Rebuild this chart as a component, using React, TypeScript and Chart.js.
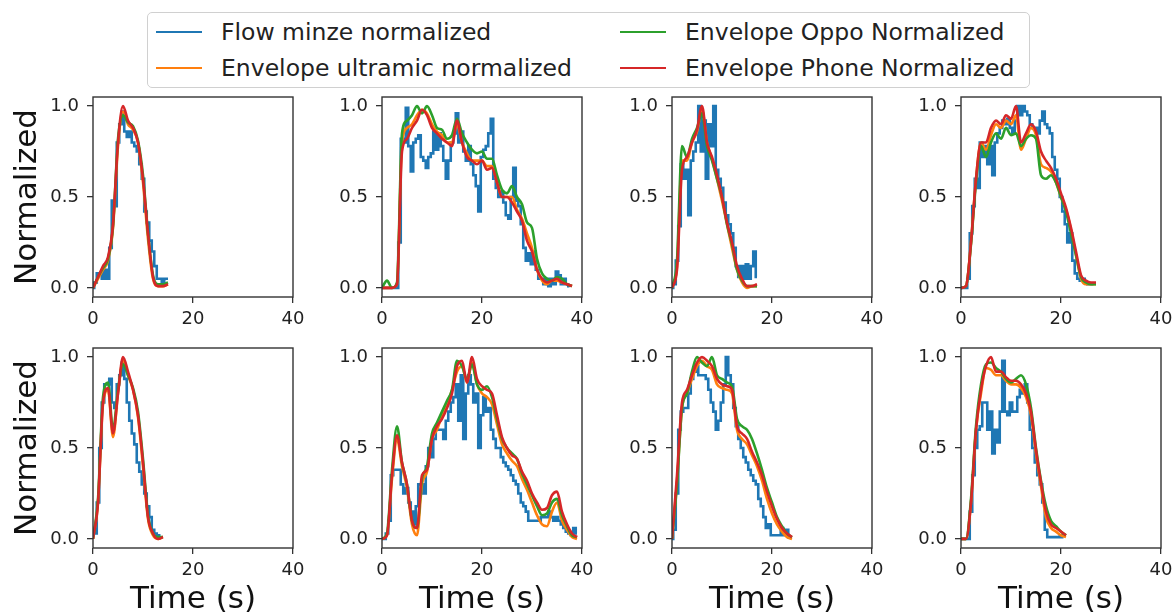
import React, { useEffect, useRef } from "react";
import { Chart, registerables } from "chart.js";

Chart.register(...registerables);

const FONT = "'DejaVu Sans', sans-serif";

// ---------- data ----------
const FLOW_DT = 0.5; // seconds between flow samples
const ENV_DT = 1; // seconds between envelope samples
const X_MIN = 0;
const X_MAX = 40;
const X_TICKS = [0, 20, 40];
const Y_MIN = -0.05;
const Y_MAX = 1.05;
const Y_TICKS = [0, 0.5, 1.0];
const X_TITLE = "Time (s)";
const Y_TITLE = "Normalized";
const SERIES_NAMES = [
  "Flow minze normalized",
  "Envelope ultramic normalized",
  "Envelope Oppo Normalized",
  "Envelope Phone Normalized",
];
const SERIES_COLORS = ["#1f77b4", "#ff7f0e", "#2ca02c", "#d62728"];

// panel 1 (top row, 1st)
const flow1 = [0, 0.03, 0.08, 0.08, 0.05, 0.1, 0.05, 0.22, 0.48, 0.45, 0.8, 0.9, 0.97, 0.86, 0.83, 0.86, 0.8, 0.78, 0.75, 0.68, 0.6, 0.42, 0.36, 0.26, 0.2, 0.12, 0.05, 0.05, 0.03, 0.05, 0.05];
const ultra1 = [0, 0.05, 0.1, 0.15, 0.33, 0.78, 0.97, 0.9, 0.87, 0.8, 0.58, 0.27, 0.05, 0.01, 0.01, 0.02];
const oppo1 = [0, 0.06, 0.11, 0.16, 0.34, 0.82, 0.95, 0.91, 0.89, 0.81, 0.62, 0.3, 0.07, 0.02, 0.02, 0.03];
const phone1 = [0, 0.06, 0.12, 0.17, 0.35, 0.8, 1.0, 0.92, 0.88, 0.8, 0.6, 0.3, 0.06, 0.01, 0.01, 0.02];

// panel 2 (top row, 2nd)
const flow2 = [0, 0, 0, 0, 0, 0, 0, 0.25, 0.82, 0.8, 0.99, 0.78, 0.64, 0.8, 0.82, 0.84, 0.72, 0.7, 0.66, 0.72, 0.74, 0.86, 0.76, 0.85, 0.78, 0.7, 0.6, 0.7, 0.8, 0.85, 0.96, 0.8, 0.86, 0.75, 0.7, 0.78, 0.68, 0.62, 0.56, 0.42, 0.72, 0.76, 0.78, 0.85, 0.93, 0.6, 0.55, 0.5, 0.53, 0.47, 0.4, 0.38, 0.5, 0.66, 0.48, 0.45, 0.35, 0.22, 0.15, 0.19, 0.13, 0.2, 0.1, 0.05, 0.05, 0.02, 0.05, 0.01, 0.05, 0.02, 0.09, 0.07, 0.02, 0.05, 0.02, 0.01];
const ultra2 = [0, 0, 0, 0.02, 0.8, 0.88, 0.9, 0.95, 0.98, 0.96, 0.9, 0.86, 0.84, 0.8, 0.8, 0.9, 0.8, 0.74, 0.7, 0.7, 0.7, 0.67, 0.67, 0.58, 0.5, 0.5, 0.5, 0.43, 0.38, 0.3, 0.22, 0.1, 0.04, 0.02, 0.04, 0.04, 0.03, 0.02, 0.01];
const oppo2 = [0, 0.04, 0, 0.03, 0.85, 0.92, 0.95, 1.0, 0.96, 1.0, 0.95, 0.88, 0.87, 0.82, 0.84, 0.93, 0.85, 0.8, 0.76, 0.74, 0.75, 0.71, 0.71, 0.62, 0.54, 0.52, 0.56, 0.5, 0.46, 0.36, 0.33, 0.16, 0.08, 0.05, 0.04, 0.06, 0.05, 0.02, 0.01];
const phone2 = [0, 0, 0, 0.02, 0.75, 0.82, 0.88, 0.92, 0.98, 0.95, 0.88, 0.85, 0.82, 0.8, 0.78, 0.92, 0.8, 0.72, 0.7, 0.68, 0.7, 0.65, 0.66, 0.58, 0.5, 0.5, 0.47, 0.42, 0.37, 0.26, 0.2, 0.1, 0.05, 0.03, 0.04, 0.05, 0.03, 0.02, 0.01];

// panel 3 (top row, 3rd)
const flow3 = [0, 0.02, 0.15, 0.34, 0.68, 0.6, 0.65, 0.4, 0.7, 0.75, 0.8, 1.0, 0.75, 0.92, 0.6, 0.9, 0.78, 1.0, 0.65, 0.6, 0.55, 0.47, 0.4, 0.35, 0.3, 0.22, 0.12, 0.06, 0.12, 0.05, 0.13, 0.05, 0.12, 0.2, 0.06];
const ultra3 = [0, 0.12, 0.7, 0.7, 0.8, 0.86, 0.98, 0.8, 0.71, 0.6, 0.48, 0.35, 0.22, 0.1, 0.03, 0.0, 0.01, 0.01];
const oppo3 = [0, 0.15, 0.78, 0.72, 0.82, 0.88, 0.96, 0.78, 0.7, 0.6, 0.5, 0.35, 0.24, 0.1, 0.04, 0.01, 0.01, 0.01];
const phone3 = [0, 0.1, 0.65, 0.72, 0.8, 0.87, 1.0, 0.8, 0.72, 0.62, 0.5, 0.36, 0.25, 0.12, 0.05, 0.01, 0.01, 0.02];

// panel 4 (top row, 4th)
const flow4 = [0, 0, 0, 0.05, 0.3, 0.45, 0.6, 0.55, 0.8, 0.72, 0.78, 0.68, 0.78, 0.62, 0.8, 0.85, 0.88, 0.92, 0.9, 0.93, 0.88, 0.85, 0.92, 1.0, 0.95, 1.0, 0.97, 0.95, 0.9, 0.88, 0.88, 0.85, 0.92, 0.97, 0.9, 0.88, 0.85, 0.72, 0.65, 0.6, 0.5, 0.42, 0.35, 0.25, 0.3, 0.15, 0.08, 0.05, 0.04, 0.05, 0.03, 0.02, 0.02, 0.02];
const ultra4 = [0, 0.01, 0.25, 0.6, 0.8, 0.76, 0.84, 0.9, 0.88, 0.92, 0.9, 0.95, 0.76, 0.82, 0.88, 0.84, 0.68, 0.66, 0.64, 0.58, 0.5, 0.43, 0.32, 0.18, 0.05, 0.02, 0.02, 0.02];
const oppo4 = [0, 0.01, 0.24, 0.58, 0.78, 0.72, 0.8, 0.85, 0.82, 0.88, 0.84, 0.85, 0.78, 0.82, 0.84, 0.82, 0.62, 0.6, 0.62, 0.58, 0.5, 0.42, 0.3, 0.18, 0.06, 0.03, 0.02, 0.02];
const phone4 = [0, 0.01, 0.25, 0.6, 0.8, 0.8, 0.88, 0.92, 0.9, 0.95, 0.93, 1.0, 0.8, 0.85, 0.9, 0.86, 0.75, 0.7, 0.66, 0.6, 0.52, 0.44, 0.33, 0.2, 0.07, 0.04, 0.03, 0.03];

// panel 5 (bottom row, 1st)
const flow5 = [0.05, 0.03, 0.2, 0.5, 0.75, 0.85, 0.85, 0.88, 0.75, 0.72, 0.85, 0.9, 0.97, 0.88, 0.75, 0.65, 0.58, 0.52, 0.42, 0.37, 0.3, 0.25, 0.18, 0.12, 0.05, 0.03, 0.02, 0.02];
const ultra5 = [0, 0.2, 0.74, 0.82, 0.56, 0.8, 0.98, 0.9, 0.82, 0.67, 0.4, 0.11, 0.02, 0.0, 0.01];
const oppo5 = [0, 0.22, 0.78, 0.86, 0.6, 0.82, 0.96, 0.9, 0.83, 0.7, 0.44, 0.13, 0.03, 0.01, 0.01];
const phone5 = [0, 0.2, 0.75, 0.83, 0.58, 0.8, 1.0, 0.92, 0.82, 0.68, 0.42, 0.12, 0.03, 0.0, 0.01];

// panel 6 (bottom row, 2nd)
const flow6 = [0, 0, 0.03, 0.1, 0.35, 0.38, 0.38, 0.38, 0.3, 0.25, 0.28, 0.2, 0.15, 0.08, 0.18, 0.3, 0.3, 0.25, 0.4, 0.5, 0.45, 0.55, 0.6, 0.6, 0.6, 0.55, 0.65, 0.7, 0.75, 0.78, 0.85, 0.65, 0.9, 0.55, 0.8, 0.9, 0.85, 0.75, 0.8, 0.5, 0.68, 0.78, 0.7, 0.72, 0.6, 0.55, 0.5, 0.5, 0.45, 0.42, 0.4, 0.38, 0.35, 0.32, 0.3, 0.25, 0.2, 0.18, 0.15, 0.1, 0.1, 0.1, 0.1, 0.1, 0.12, 0.12, 0.12, 0.15, 0.12, 0.1, 0.12, 0.1, 0.08, 0.06, 0.04, 0.03, 0.02, 0.06, 0.03];
const ultra6 = [0, 0.02, 0.33, 0.55, 0.4, 0.28, 0.08, 0.02, 0.3, 0.37, 0.55, 0.6, 0.68, 0.74, 0.82, 0.92, 0.95, 0.86, 0.97, 0.85, 0.8, 0.78, 0.74, 0.63, 0.52, 0.47, 0.43, 0.4, 0.33, 0.27, 0.2, 0.13, 0.08, 0.07, 0.15, 0.2, 0.1, 0.05, 0.01, 0.0];
const oppo6 = [0, 0.03, 0.38, 0.62, 0.42, 0.3, 0.1, 0.06, 0.33, 0.4, 0.58, 0.64, 0.7, 0.76, 0.82, 0.98, 0.95, 0.88, 0.96, 0.85, 0.82, 0.84, 0.78, 0.66, 0.55, 0.5, 0.47, 0.44, 0.36, 0.3, 0.24, 0.18, 0.13, 0.14, 0.2, 0.22, 0.13, 0.07, 0.02, 0.01];
const phone6 = [0, 0.02, 0.35, 0.57, 0.42, 0.3, 0.1, 0.06, 0.35, 0.38, 0.55, 0.62, 0.66, 0.72, 0.8, 0.95, 0.98, 0.86, 1.0, 0.88, 0.84, 0.82, 0.8, 0.68, 0.56, 0.5, 0.46, 0.44, 0.37, 0.32, 0.25, 0.2, 0.16, 0.17, 0.24, 0.26, 0.15, 0.08, 0.03, 0.01];

// panel 7 (bottom row, 3rd)
const flow7 = [0, 0.05, 0.25, 0.6, 0.7, 0.72, 0.72, 0.8, 0.88, 0.92, 0.95, 0.9, 0.9, 0.9, 0.88, 0.82, 0.75, 0.7, 0.6, 0.65, 0.75, 0.85, 1.0, 0.9, 0.85, 0.72, 0.62, 0.55, 0.5, 0.45, 0.42, 0.38, 0.35, 0.32, 0.3, 0.22, 0.18, 0.12, 0.06, 0.08, 0.02, 0.02, 0.02, 0.02, 0.06, 0.02, 0.05, 0.01];
const ultra7 = [0, 0.32, 0.72, 0.8, 0.88, 0.95, 0.98, 0.95, 0.93, 0.85, 0.83, 0.82, 0.8, 0.6, 0.55, 0.52, 0.46, 0.4, 0.32, 0.22, 0.14, 0.08, 0.04, 0.01, 0.0];
const oppo7 = [0, 0.3, 0.72, 0.8, 0.92, 1.0, 0.97, 0.95, 1.0, 0.9, 0.88, 0.86, 0.84, 0.66, 0.62, 0.6, 0.55, 0.47, 0.38, 0.28, 0.2, 0.12, 0.07, 0.03, 0.01];
const phone7 = [0, 0.35, 0.75, 0.82, 0.9, 0.97, 1.0, 0.98, 0.95, 0.88, 0.85, 0.84, 0.82, 0.62, 0.58, 0.55, 0.48, 0.42, 0.35, 0.26, 0.18, 0.11, 0.06, 0.03, 0.01];

// panel 8 (bottom row, 4th)
const flow8 = [0, 0, 0, 0, 0.15, 0.35, 0.5, 0.6, 0.62, 0.75, 0.75, 0.6, 0.7, 0.47, 0.6, 0.53, 0.7, 0.98, 0.7, 0.68, 0.75, 0.7, 0.7, 0.78, 0.82, 0.8, 0.85, 0.75, 0.6, 0.5, 0.42, 0.35, 0.3, 0.2, 0.05, 0.01, 0.01, 0.01, 0.01, 0.01, 0.02, 0.01];
const ultra8 = [0, 0, 0.2, 0.6, 0.8, 0.94, 0.93, 0.9, 0.9, 0.87, 0.85, 0.85, 0.83, 0.78, 0.68, 0.47, 0.29, 0.12, 0.06, 0.04, 0.02, 0.01];
const oppo8 = [0, 0, 0.22, 0.62, 0.85, 0.96, 0.97, 0.94, 0.92, 0.88, 0.86, 0.88, 0.9, 0.85, 0.72, 0.5, 0.32, 0.18, 0.1, 0.07, 0.04, 0.02];
const phone8 = [0, 0, 0.2, 0.6, 0.82, 0.95, 1.0, 0.92, 0.92, 0.89, 0.87, 0.87, 0.85, 0.8, 0.7, 0.49, 0.31, 0.15, 0.08, 0.06, 0.04, 0.02];

const PANELS = [
  [flow1, ultra1, oppo1, phone1],
  [flow2, ultra2, oppo2, phone2],
  [flow3, ultra3, oppo3, phone3],
  [flow4, ultra4, oppo4, phone4],
  [flow5, ultra5, oppo5, phone5],
  [flow6, ultra6, oppo6, phone6],
  [flow7, ultra7, oppo7, phone7],
  [flow8, ultra8, oppo8, phone8],
];

// ---------- layout ----------
const PLOT_LEFTS = [93, 382, 672, 961];
const PLOT_TOPS = [97, 348];
const PLOT_SIZE = 200;
const Y_AXIS_W = 88;
const PAD_TOP = 10;
const PAD_RIGHT = 22;
const X_AXIS_H = 40;
const X_AXIS_H_TITLED = 72;
const TEXT_COLOR = "#222";
const SPINE_COLOR = "#333";

const boxPlugin = {
  id: "spineBox",
  afterDatasetsDraw(chart: any) {
    const { ctx, chartArea } = chart;
    const { left, top, right, bottom } = chartArea;
    ctx.save();
    ctx.strokeStyle = SPINE_COLOR;
    ctx.lineWidth = 1.4;
    ctx.strokeRect(left, top, right - left, bottom - top);
    ctx.restore();
  },
};

function Panel({ values, left, top, showX, showY }: any) {
  const ref = useRef<HTMLCanvasElement>(null);
  const xH = showX ? X_AXIS_H_TITLED : X_AXIS_H;
  const W = Y_AXIS_W + PLOT_SIZE + PAD_RIGHT;
  const H = PAD_TOP + PLOT_SIZE + xH;

  useEffect(() => {
    if (!ref.current) return;
    const chart = new Chart(ref.current, {
      type: "line",
      data: {
        datasets: values.map((vals: number[], k: number) => ({
          label: SERIES_NAMES[k],
          data: vals.map((v, i) => ({ x: i * (k === 0 ? FLOW_DT : ENV_DT), y: v })),
          borderColor: SERIES_COLORS[k],
          backgroundColor: SERIES_COLORS[k],
          borderWidth: 2.6,
          pointRadius: 0,
          stepped: k === 0 ? "middle" : false,
          cubicInterpolationMode: k === 0 ? "default" : "monotone",
          tension: 0,
          fill: false,
          order: 4 - k,
        })),
      },
      options: {
        responsive: false,
        animation: false,
        devicePixelRatio: 1,
        events: [],
        layout: { padding: { left: 0, top: PAD_TOP, right: PAD_RIGHT, bottom: 0 } },
        plugins: { legend: { display: false }, tooltip: { enabled: false } },
        scales: {
          x: {
            type: "linear",
            position: "bottom",
            min: X_MIN,
            max: X_MAX,
            afterBuildTicks: (s: any) => {
              s.ticks = X_TICKS.map((v) => ({ value: v }));
            },
            afterFit: (s: any) => {
              s.height = xH;
              s.paddingLeft = 0;
              s.paddingRight = 0;
              s.paddingTop = 0;
              s.paddingBottom = 0;
            },
            ticks: {
              font: { family: FONT, size: 18 },
              color: TEXT_COLOR,
              padding: 6,
              maxRotation: 0,
              autoSkip: false,
              callback: (v: any) => String(v),
            },
            grid: {
              drawOnChartArea: false,
              drawTicks: true,
              tickLength: 6,
              color: SPINE_COLOR,
              lineWidth: 1.3,
            },
            border: { display: false },
            title: {
              display: showX,
              text: X_TITLE,
              font: { family: FONT, size: 31 },
              color: "#111",
              padding: { top: 0, bottom: 1 },
            },
          },
          y: {
            type: "linear",
            position: "left",
            min: Y_MIN,
            max: Y_MAX,
            afterBuildTicks: (s: any) => {
              s.ticks = Y_TICKS.map((v) => ({ value: v }));
            },
            afterFit: (s: any) => {
              s.width = Y_AXIS_W;
              s.paddingLeft = 0;
              s.paddingRight = 0;
              s.paddingTop = 0;
              s.paddingBottom = 0;
            },
            ticks: {
              font: { family: FONT, size: 18 },
              color: TEXT_COLOR,
              padding: 8,
              autoSkip: false,
              callback: (v: any) => Number(v).toFixed(1),
            },
            grid: {
              drawOnChartArea: false,
              drawTicks: true,
              tickLength: 6,
              color: SPINE_COLOR,
              lineWidth: 1.3,
            },
            border: { display: false },
            title: {
              display: showY,
              text: Y_TITLE,
              font: { family: FONT, size: 31 },
              color: "#111",
              padding: { top: 4, bottom: 0 },
            },
          },
        },
      } as any,
      plugins: [boxPlugin],
    });
    return () => chart.destroy();
  }, []);

  return (
    <canvas
      ref={ref}
      width={W}
      height={H}
      style={{
        position: "absolute",
        left: left - Y_AXIS_W,
        top: top - PAD_TOP,
        width: W,
        height: H,
      }}
    />
  );
}

function Legend() {
  const item = (k: number, x: number, y: number) => (
    <div
      key={k}
      style={{
        position: "absolute",
        left: x,
        top: y,
        height: 30,
        display: "flex",
        alignItems: "center",
        whiteSpace: "nowrap",
      }}
    >
      <div style={{ width: 46, height: 2.6, background: SERIES_COLORS[k] }} />
      <span style={{ marginLeft: 19, fontFamily: FONT, fontSize: 23.5, color: TEXT_COLOR }}>
        {SERIES_NAMES[k]}
      </span>
    </div>
  );
  return (
    <div
      style={{
        position: "absolute",
        left: 147,
        top: 12,
        width: 883,
        height: 76,
        boxSizing: "border-box",
        border: "1.3px solid #d0d0d0",
        borderRadius: 5,
        background: "#fff",
      }}
    >
      {item(0, 8, 4)}
      {item(1, 8, 40)}
      {item(2, 472, 4)}
      {item(3, 472, 40)}
    </div>
  );
}

export default function App() {
  return (
    <div
      style={{
        position: "absolute",
        left: 0,
        top: 0,
        width: 1176,
        height: 615,
        overflow: "hidden",
        background: "#fff",
      }}
    >
      {PANELS.map((vals, i) => {
        const row = Math.floor(i / 4);
        const col = i % 4;
        return (
          <Panel
            key={i}
            values={vals}
            left={PLOT_LEFTS[col]}
            top={PLOT_TOPS[row]}
            showX={row === 1}
            showY={col === 0}
          />
        );
      })}
      <Legend />
    </div>
  );
}
